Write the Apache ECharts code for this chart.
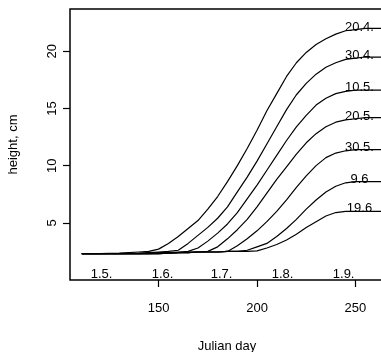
<!DOCTYPE html>
<html lang="en">
<head>
    <meta charset="UTF-8">
    <title>height by julian day</title>
    <script src="https://cdn.jsdelivr.net/npm/echarts@6/dist/echarts.min.js"></script>
    <style>
        body { margin: 0; background: #fff; }
        #main { width: 381px; height: 352px; }
    </style>
</head>
<body>
<div id="main"></div>
<script>
    // julian day grid shared by all curves
    const days = [111, 120, 130, 140, 145, 150, 155, 160, 165, 170, 175, 180, 185, 190,
        195, 200, 205, 210, 215, 220, 225, 230, 235, 240, 245, 250, 255, 263];

    // sowing dates (curve labels)
    const sowing = ['20.4.', '30.4.', '10.5.', '20.5.', '30.5.', '9.6', '19.6'];

    const h_204 = [2.3, 2.3, 2.35, 2.45, 2.5, 2.7, 3.2, 3.8, 4.5, 5.2, 6.2, 7.3, 8.6, 10.0,
        11.5, 13.1, 14.8, 16.3, 17.8, 19.0, 19.9, 20.6, 21.1, 21.5, 21.8, 21.9, 22.0, 22.0];
    const h_304 = [2.3, 2.3, 2.3, 2.35, 2.4, 2.45, 2.5, 2.6, 3.2, 3.9, 4.6, 5.4, 6.4, 7.7,
        9.0, 10.4, 11.9, 13.4, 14.9, 16.2, 17.2, 18.0, 18.6, 19.0, 19.3, 19.4, 19.5, 19.5];
    const h_105 = [2.3, 2.3, 2.3, 2.3, 2.35, 2.4, 2.4, 2.45, 2.5, 2.8, 3.4, 4.1, 4.9, 5.9,
        7.1, 8.3, 9.6, 10.9, 12.2, 13.4, 14.4, 15.3, 15.9, 16.3, 16.5, 16.6, 16.6, 16.6];
    const h_205 = [2.3, 2.3, 2.3, 2.3, 2.3, 2.35, 2.4, 2.4, 2.45, 2.45, 2.5, 2.9, 3.6, 4.4,
        5.3, 6.4, 7.6, 8.8, 9.9, 11.0, 12.0, 12.8, 13.4, 13.8, 14.0, 14.1, 14.2, 14.2];
    const h_305 = [2.3, 2.3, 2.3, 2.3, 2.3, 2.3, 2.35, 2.4, 2.4, 2.45, 2.45, 2.45, 2.5, 3.0,
        3.6, 4.3, 5.1, 6.0, 7.0, 8.1, 9.1, 10.0, 10.7, 11.1, 11.3, 11.4, 11.4, 11.4];
    const h_96 = [2.3, 2.3, 2.3, 2.3, 2.3, 2.3, 2.35, 2.4, 2.4, 2.45, 2.45, 2.45, 2.5, 2.5,
        2.6, 2.9, 3.2, 3.8, 4.5, 5.3, 6.2, 7.0, 7.7, 8.2, 8.5, 8.6, 8.6, 8.6];
    const h_196 = [2.3, 2.3, 2.3, 2.3, 2.3, 2.3, 2.35, 2.4, 2.4, 2.45, 2.45, 2.45, 2.5, 2.5,
        2.5, 2.55, 2.8, 3.1, 3.5, 4.0, 4.6, 5.1, 5.6, 5.9, 6.0, 6.0, 6.0, 6.0];

    const heights = [h_204, h_304, h_105, h_205, h_305, h_96, h_196];

    // first days of months, written at the bottom of the plot
    const monthDays = [121, 152, 182, 213, 244];
    const monthLabels = ['1.5.', '1.6.', '1.7.', '1.8.', '1.9.'];

    const labelDay = 250;
    const FONT = 'Liberation Sans';

    var myChart = echarts.init(document.getElementById('main'));

    let series = heights.map(function (h, k) {
        return {
            name: sowing[k],
            type: 'line',
            symbol: 'none',
            silent: true,
            lineStyle: {color: '#000', width: 1.2},
            data: days.map(function (d, i) {
                return [d, h[i]];
            })
        };
    });

    // sowing date written just above each curve near its end
    let li = days.indexOf(labelDay);
    series.push({
        type: 'scatter',
        symbolSize: 0,
        itemStyle: {color: 'rgba(0,0,0,0)', opacity: 1},
        silent: true,
        data: heights.map(function (h, k) {
            return {value: [labelDay, h[li]], name: sowing[k]};
        }),
        label: {
            show: true,
            position: 'top',
            distance: 0,
            offset: [4, 4],
            formatter: '{b}',
            color: '#000',
            opacity: 1,
            fontFamily: FONT,
            fontSize: 13
        }
    });

    series.push({
        type: 'scatter',
        symbolSize: 0,
        itemStyle: {color: 'rgba(0,0,0,0)', opacity: 1},
        silent: true,
        data: monthDays.map(function (d, i) {
            return {value: [d, 0.3], name: monthLabels[i]};
        }),
        label: {
            show: true,
            position: 'top',
            distance: 0,
            offset: [0, 4],
            formatter: '{b}',
            color: '#000',
            opacity: 1,
            fontFamily: FONT,
            fontSize: 13
        }
    });

    var option = {
        animation: false,
        backgroundColor: '#fff',
        grid: {
            left: 70, top: 9, width: 314, height: 271,
            outerBoundsMode: 'none',
            containLabel: false,
            show: true, borderColor: '#000', borderWidth: 1.5
        },
        xAxis: {
            type: 'value',
            min: 105, max: 264.5,
            interval: 50,
            name: 'Julian day',
            nameLocation: 'middle',
            nameGap: 60,
            nameTextStyle: {color: '#000', fontFamily: FONT, fontSize: 13},
            splitLine: {show: false},
            axisLine: {show: false},
            axisTick: {
                length: 7, lineStyle: {color: '#000', width: 1.2},
                customValues: [150, 200, 250]
            },
            axisLabel: {
                margin: 22, color: '#000', fontFamily: FONT, fontSize: 13,
                customValues: [150, 200, 250]
            }
        },
        yAxis: {
            type: 'value',
            min: 0, max: 23.7,
            interval: 5,
            name: 'height, cm',
            nameLocation: 'middle',
            nameGap: 50,
            nameRotate: 90,
            nameTextStyle: {color: '#000', fontFamily: FONT, fontSize: 13},
            splitLine: {show: false},
            axisLine: {show: false},
            axisTick: {
                length: 7, lineStyle: {color: '#000', width: 1.2},
                customValues: [5, 10, 15, 20]
            },
            axisLabel: {
                rotate: 90, margin: 11, color: '#000', fontFamily: FONT, fontSize: 13,
                customValues: [5, 10, 15, 20]
            }
        },
        series: series
    };

    myChart.setOption(option);
</script>
</body>
</html>
